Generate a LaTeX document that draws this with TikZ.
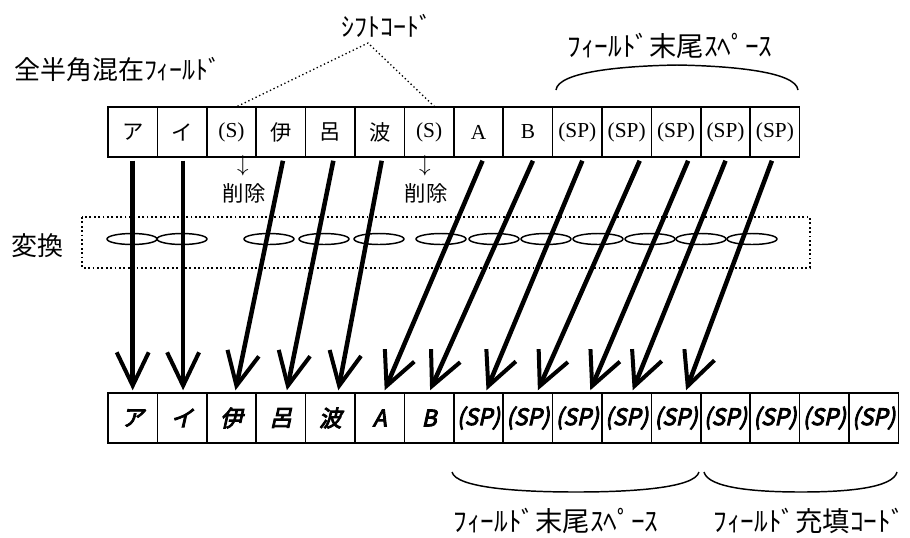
\documentclass[tikz,border=0pt]{standalone}
\usepackage{fontspec}
\setmainfont{Liberation Serif}
\newfontfamily\jp{Noto Sans CJK JP}
\newfontfamily\jpbi[FakeSlant=0.22,FakeBold=4]{Noto Sans CJK JP}
\usetikzlibrary{arrows.meta}
\newlength{\px}
\setlength{\px}{0.75pt}

\begin{document}
\begin{tikzpicture}[yscale=-1,
  cell/.style={draw,line width=1.1pt,minimum width=49.4\px,minimum height=50\px,inner sep=0pt,font=\fontsize{16}{18}\selectfont},
  outcell/.style={cell,font=\jpbi\fontsize{17}{18}\selectfont},
  conv/.style={line width=3.4pt,-{Straight Barb[length=25pt,width=24pt,line width=3pt]}},
  lab/.style={inner sep=0pt,font=\jp\fontsize{19.5}{22}\selectfont},
  widelab/.style={lab,font=\jp\fontsize{20.5}{22}\selectfont},
  brace/.style={line width=1.1pt},
  ring/.style={line width=1.1pt,x radius=25\px,y radius=5.5\px}]
\useasboundingbox (0,0) rectangle (910\px,537\px);

% input field
\node[lab] (title) at (118\px,70\px) {全半角混在ﾌｨｰﾙﾄﾞ};
\node[cell] (t1) at (132.7\px,132\px) {\jp ア};
\node[cell] (t2) at (182.1\px,132\px) {\jp イ};
\node[cell] (t3) at (231.5\px,132\px) {(S)};
\node[cell] (t4) at (280.9\px,132\px) {\jp 伊};
\node[cell] (t5) at (330.3\px,132\px) {\jp 呂};
\node[cell] (t6) at (379.7\px,132\px) {\jp 波};
\node[cell] (t7) at (429.1\px,132\px) {(S)};
\node[cell] (t8) at (478.5\px,132\px) {A};
\node[cell] (t9) at (527.9\px,132\px) {B};
\node[cell] (t10) at (577.3\px,132\px) {(SP)};
\node[cell] (t11) at (626.7\px,132\px) {(SP)};
\node[cell] (t12) at (676.1\px,132\px) {(SP)};
\node[cell] (t13) at (725.5\px,132\px) {(SP)};
\node[cell] (t14) at (774.9\px,132\px) {(SP)};

% shift codes
\node[lab] (shift) at (387\px,26\px) {ｼﾌﾄｺｰﾄﾞ};
\coordinate (sc) at (368\px,43\px);
\draw[dotted,line width=1pt] ([xshift=6\px]t3.north) -- (sc) -- ([xshift=5\px]t7.north);
\node[inner sep=0pt,font=\fontsize{17}{18}\selectfont] (del1a) at (243\px,166\px) {$\downarrow$};
\node[lab,font=\jp\fontsize{16}{18}\selectfont] (del1) at (244\px,193\px) {削除};
\node[inner sep=0pt,font=\fontsize{17}{18}\selectfont] (del2a) at (425\px,166\px) {$\downarrow$};
\node[lab,font=\jp\fontsize{16}{18}\selectfont] (del2) at (426\px,193\px) {削除};

% trailing spaces (top)
\node[widelab] (tail) at (670\px,46\px) {ﾌｨｰﾙﾄﾞ末尾ｽﾍﾟｰｽ};
\draw[brace] (556\px,90\px) .. controls (558\px,72\px) and (620\px,66\px) .. (677\px,65\px)
  .. controls (734\px,66\px) and (796\px,72\px) .. (798\px,90\px);

% conversion
\node[lab] (conv) at (38\px,246\px) {変換};
\draw[dotted,line width=1.3pt] (82\px,217\px) rectangle (810\px,268\px);
\draw[ring] (132\px,239\px) ellipse [];
\draw[ring] (182\px,239\px) ellipse [];
\draw[ring] (269\px,239\px) ellipse [];
\draw[ring] (324\px,239\px) ellipse [];
\draw[ring] (379\px,239\px) ellipse [];
\draw[ring] (441\px,239\px) ellipse [];
\draw[ring] (494\px,239\px) ellipse [];
\draw[ring] (546\px,239\px) ellipse [];
\draw[ring] (598\px,239\px) ellipse [];
\draw[ring] (650\px,239\px) ellipse [];
\draw[ring] (701\px,239\px) ellipse [];
\draw[ring] (752\px,239\px) ellipse [];

% output field
\node[outcell] (b1) at (132.7\px,418\px) {ア};
\node[outcell] (b2) at (182.1\px,418\px) {イ};
\node[outcell] (b3) at (231.5\px,418\px) {伊};
\node[outcell] (b4) at (280.9\px,418\px) {呂};
\node[outcell] (b5) at (330.3\px,418\px) {波};
\node[outcell] (b6) at (379.7\px,418\px) {A};
\node[outcell] (b7) at (429.1\px,418\px) {B};
\node[outcell] (b8) at (478.5\px,418\px) {(SP)};
\node[outcell] (b9) at (527.9\px,418\px) {(SP)};
\node[outcell] (b10) at (577.3\px,418\px) {(SP)};
\node[outcell] (b11) at (626.7\px,418\px) {(SP)};
\node[outcell] (b12) at (676.1\px,418\px) {(SP)};
\node[outcell] (b13) at (725.5\px,418\px) {(SP)};
\node[outcell] (b14) at (774.9\px,418\px) {(SP)};
\node[outcell] (b15) at (824.3\px,418\px) {(SP)};
\node[outcell] (b16) at (873.7\px,418\px) {(SP)};

% arrows
\draw[conv] ([yshift=3\px]t1.south) -- ([yshift=-2\px]b1.north);
\draw[conv] ([xshift=1\px,yshift=3\px]t2.south) -- ([xshift=1\px,yshift=-2\px]b2.north);
\draw[conv] ([xshift=2\px,yshift=3\px]t4.south) -- ([xshift=4\px,yshift=-2\px]b3.north);
\draw[conv] ([xshift=3\px,yshift=3\px]t5.south) -- ([xshift=6\px,yshift=-2\px]b4.north);
\draw[conv] ([xshift=2\px,yshift=3\px]t6.south) -- ([xshift=8\px,yshift=-2\px]b5.north);
\draw[conv] ([xshift=4\px,yshift=3\px]t8.south) -- ([xshift=5\px,yshift=-2\px]b6.north);
\draw[conv] ([xshift=5\px,yshift=3\px]t9.south) -- ([xshift=1\px,yshift=-2\px]b7.north);
\draw[conv] ([xshift=5\px,yshift=3\px]t10.south) -- ([xshift=8\px,yshift=-2\px]b8.north);
\draw[conv] ([xshift=13\px,yshift=3\px]t11.south) -- ([xshift=10\px,yshift=-2\px]b9.north);
\draw[conv] ([xshift=12\px,yshift=3\px]t12.south) -- ([xshift=13\px,yshift=-2\px]b10.north);
\draw[conv] ([yshift=3\px]t13.south) -- ([xshift=6\px,yshift=-2\px]b11.north);
\draw[conv] ([xshift=-3\px,yshift=3\px]t14.south) -- ([xshift=10\px,yshift=-2\px]b12.north);

% bottom braces
\draw[brace] (452\px,472\px) .. controls (456\px,488\px) and (520\px,492\px) .. (576\px,492\px)
  .. controls (632\px,492\px) and (695\px,488\px) .. (699\px,472\px);
\draw[brace] (704\px,472\px) .. controls (708\px,488\px) and (755\px,492\px) .. (801\px,492\px)
  .. controls (847\px,492\px) and (893\px,488\px) .. (897\px,472\px);
\node[widelab] (tail2) at (556\px,521\px) {ﾌｨｰﾙﾄﾞ末尾ｽﾍﾟｰｽ};
\node[widelab] (fill) at (809\px,521\px) {ﾌｨｰﾙﾄﾞ充填ｺｰﾄﾞ};
\end{tikzpicture}
\end{document}
